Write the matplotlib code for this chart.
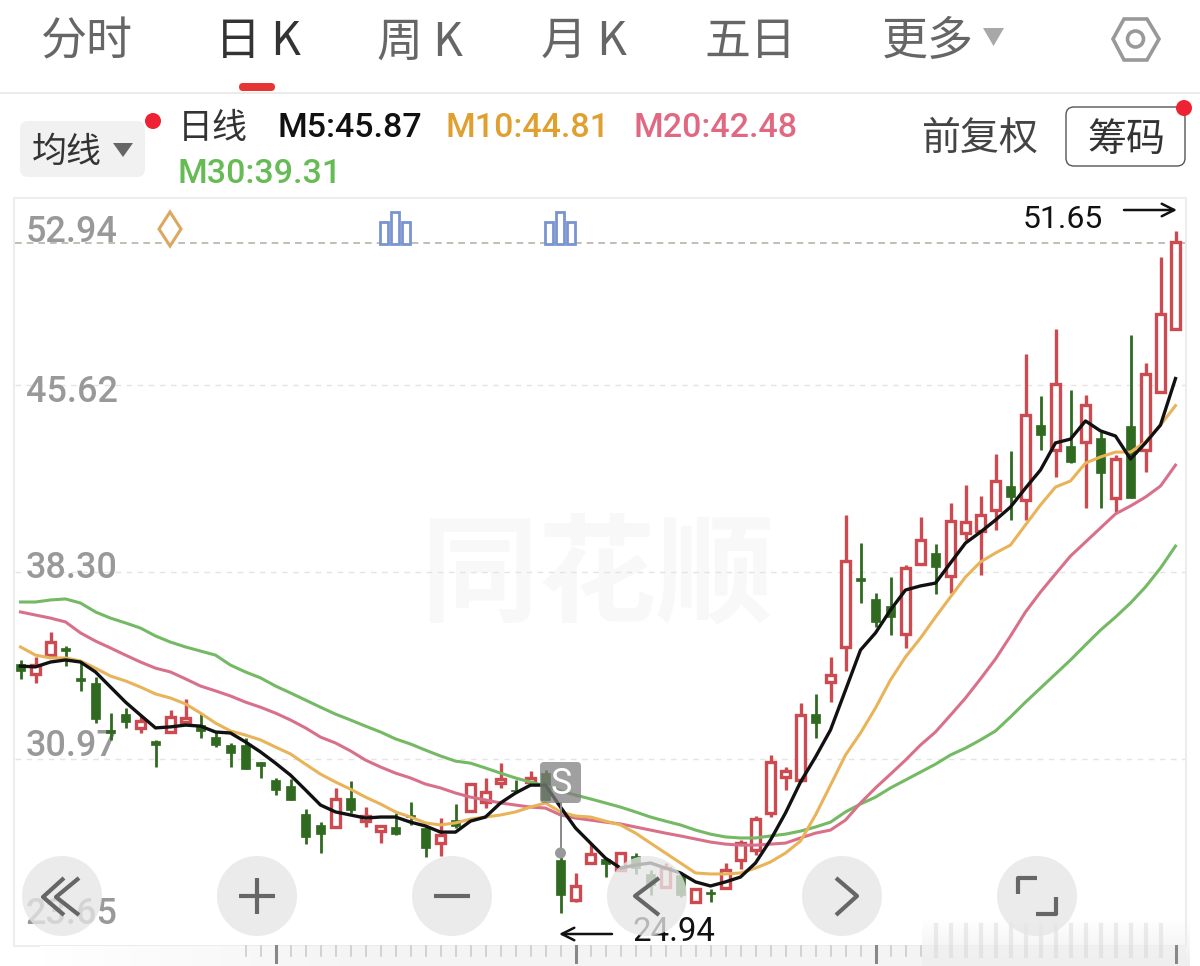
import numpy as np
import matplotlib
matplotlib.use("Agg")
import matplotlib.pyplot as plt
from matplotlib.patches import Rectangle, Circle, FancyBboxPatch, Polygon

plt.rcParams['font.family'] = ['Noto Sans CJK SC', 'DejaVu Sans']

tabs = ["分时", "日 K", "周 K", "月 K", "五日", "更多"]
ma_text = ["M5:45.87", "M10:44.81", "M20:42.48", "M30:39.31"]
y_labels = ["52.94", "45.62", "38.30", "30.97", "23.65"]
grid_prices = [45.62, 38.30, 30.97]
price_top = 52.94
price_bottom = 23.65
high_line = 51.18
max_price = "51.65"
min_price = "24.94"

opens = [34.69, 34.30, 35.04, 35.32, 34.15, 33.95, 32.11, 32.73, 32.19, 31.68, 32.03, 32.42, 32.30, 31.83, 31.52, 31.52,
         30.85, 30.15, 29.92, 28.82, 28.39, 28.31, 29.45, 28.54, 28.15, 28.31, 28.78, 28.27, 27.68, 28.58, 28.93, 29.29,
         30.03, 29.76, 30.07, 30.42, 27.02, 25.45, 26.90, 27.06, 26.63, 27.17, 26.47, 25.96, 26.43, 25.37, 25.76, 25.92,
         27.02, 27.41, 28.86, 30.27, 30.15, 32.73, 33.99, 35.36, 38.06, 37.24, 36.96, 35.87, 38.61, 39.04, 38.14, 39.82,
         39.90, 40.72, 41.66, 41.12, 44.05, 43.07, 43.23, 43.39, 43.54, 41.19, 44.01, 43.07, 45.35, 47.81]
closes = [34.42, 34.66, 35.55, 35.20, 34.03, 32.54, 31.99, 32.42, 32.46, 31.52, 32.62, 32.58, 32.07, 31.52, 31.21, 30.58,
          30.70, 29.76, 29.37, 27.92, 28.03, 29.41, 28.97, 28.74, 28.35, 28.03, 28.70, 27.49, 28.00, 28.35, 29.99, 29.68,
          30.19, 29.72, 30.23, 29.37, 25.65, 26.00, 27.25, 26.86, 27.29, 26.70, 26.04, 26.70, 25.65, 25.88, 25.68, 26.63,
          27.68, 28.62, 30.85, 30.50, 32.69, 32.38, 34.26, 38.73, 37.94, 36.34, 36.53, 38.45, 39.55, 38.49, 40.29, 40.25,
          40.53, 41.86, 41.23, 44.44, 43.66, 45.66, 42.60, 44.84, 42.17, 42.72, 41.19, 46.05, 48.40, 51.22]
highs = [34.85, 34.97, 35.94, 35.39, 34.73, 34.18, 32.77, 32.97, 32.69, 31.72, 32.89, 33.32, 32.77, 32.03, 31.60, 31.79,
         30.85, 30.23, 30.19, 29.01, 28.50, 29.84, 30.11, 29.09, 28.35, 28.86, 29.29, 28.39, 28.66, 29.21, 29.99, 30.23,
         30.81, 30.15, 30.50, 30.54, 27.21, 26.51, 27.68, 27.09, 27.33, 27.29, 26.63, 26.90, 26.55, 25.88, 25.88, 26.90,
         27.80, 28.74, 31.13, 30.66, 33.16, 33.52, 34.97, 40.53, 39.43, 37.47, 38.10, 38.57, 40.45, 39.39, 41.00, 41.70,
         41.27, 42.92, 43.03, 46.83, 45.19, 47.81, 45.42, 45.23, 43.78, 42.88, 47.57, 46.48, 50.63, 51.65]
lows = [34.11, 33.95, 35.04, 34.61, 33.63, 32.38, 31.72, 32.19, 31.99, 30.66, 31.99, 32.34, 31.79, 31.44, 30.66, 30.58,
        30.23, 29.56, 29.37, 27.64, 27.29, 28.31, 28.86, 28.31, 27.68, 28.00, 28.39, 27.13, 27.17, 28.27, 28.93, 29.05,
        29.84, 29.64, 30.03, 29.37, 24.94, 25.37, 26.90, 26.35, 26.63, 26.47, 25.65, 25.96, 25.57, 25.37, 25.37, 25.92,
        26.66, 27.21, 28.70, 29.76, 30.07, 31.79, 33.20, 34.42, 37.08, 36.14, 35.83, 35.32, 38.61, 37.43, 37.47, 39.55,
        38.18, 39.94, 40.33, 40.33, 43.07, 42.02, 42.56, 40.80, 40.80, 40.65, 41.19, 42.21, 45.35, 47.81]

m5 = [34.61, 34.58, 34.77, 34.85, 34.77, 34.38, 33.79, 33.20, 32.69, 32.19, 32.23, 32.30, 32.26, 32.03, 31.99, 31.64,
      31.25, 30.81, 30.34, 29.76, 29.17, 28.90, 28.78, 28.66, 28.70, 28.70, 28.50, 28.35, 28.11, 28.11, 28.54, 28.70,
      29.25, 29.64, 29.95, 29.95, 29.09, 28.27, 27.68, 27.09, 26.70, 26.82, 26.90, 26.70, 26.51, 26.16, 26.00, 26.16,
      26.35, 26.90, 27.80, 28.86, 30.07, 31.05, 32.11, 33.67, 35.24, 35.91, 36.81, 37.59, 37.75, 37.86, 38.65, 39.43,
      39.86, 40.33, 40.84, 41.58, 42.29, 43.35, 43.50, 44.21, 43.82, 43.62, 42.72, 43.35, 44.05, 45.87]
m10 = [35.36, 35.04, 34.93, 34.93, 34.81, 34.53, 34.22, 34.03, 33.79, 33.52, 33.36, 33.13, 32.77, 32.38, 32.07, 31.91,
       31.72, 31.44, 31.17, 30.77, 30.38, 30.07, 29.79, 29.48, 29.21, 28.90, 28.70, 28.47, 28.39, 28.47, 28.62, 28.70,
       28.78, 28.90, 29.09, 29.25, 28.90, 28.74, 28.70, 28.54, 28.39, 28.07, 27.68, 27.29, 26.90, 26.51, 26.47, 26.47,
       26.51, 26.70, 26.94, 27.29, 27.76, 28.78, 29.95, 31.13, 31.99, 32.97, 34.07, 34.97, 35.71, 36.53, 37.32, 38.10,
       38.69, 39.04, 39.35, 40.14, 40.92, 41.62, 41.86, 42.56, 42.80, 42.99, 42.99, 43.39, 44.05, 44.81]
m20 = [36.73, 36.61, 36.49, 36.34, 35.91, 35.59, 35.32, 35.04, 34.77, 34.53, 34.38, 34.11, 33.83, 33.64, 33.44, 33.20,
       33.00, 32.77, 32.50, 32.19, 31.83, 31.60, 31.29, 30.93, 30.66, 30.42, 30.23, 29.99, 29.84, 29.64, 29.48, 29.37,
       29.25, 29.17, 29.09, 29.05, 28.78, 28.66, 28.58, 28.50, 28.43, 28.31, 28.19, 28.07, 27.96, 27.84, 27.72, 27.64,
       27.60, 27.60, 27.64, 27.68, 27.88, 28.07, 28.19, 28.58, 29.25, 29.84, 30.38, 30.93, 31.52, 32.03, 32.69, 33.36,
       34.11, 34.89, 35.79, 36.73, 37.51, 38.22, 38.92, 39.47, 40.02, 40.57, 40.88, 41.23, 41.66, 42.48]
m30 = [37.12, 37.12, 37.20, 37.24, 37.08, 36.73, 36.49, 36.30, 36.10, 35.79, 35.55, 35.36, 35.20, 35.04, 34.65, 34.38,
       34.15, 33.83, 33.56, 33.28, 33.00, 32.73, 32.50, 32.26, 32.03, 31.76, 31.56, 31.32, 31.09, 30.89, 30.81, 30.62,
       30.42, 30.23, 30.07, 29.92, 29.72, 29.56, 29.41, 29.25, 29.09, 28.90, 28.70, 28.54, 28.39, 28.19, 28.03, 27.92,
       27.88, 27.88, 27.96, 28.03, 28.15, 28.31, 28.50, 28.90, 29.21, 29.48, 29.84, 30.15, 30.46, 30.77, 31.13, 31.40,
       31.72, 32.07, 32.62, 33.20, 33.75, 34.30, 34.85, 35.44, 36.02, 36.53, 37.08, 37.71, 38.45, 39.31]

red = "#cc4a50"
green = "#2f6a20"
gray_text = "#999999"


def px(size):
    # font size in pixels to points at dpi 100
    return size * 0.72


def drawCandles(ax):
    for i in range(len(opens)):
        up = closes[i] >= opens[i]
        color = red if up else green
        ax.vlines(i, lows[i], highs[i], color=color, lw=2.4 if up else 2, zorder=3)
        bottom = min(opens[i], closes[i])
        height = abs(closes[i] - opens[i])
        if up:
            ax.add_patch(Rectangle((i - 0.27, bottom), 0.54, height, facecolor="white", edgecolor=color, lw=2.4, zorder=4))
        else:
            ax.add_patch(Rectangle((i - 0.29, bottom), 0.58, height, facecolor=color, edgecolor=color, lw=0.5, zorder=4))


def drawButton(ui, x, kind):
    y = 896
    ui.add_patch(Circle((x, y), 40, facecolor="#e6e6e6", edgecolor="none", alpha=0.78, zorder=10))
    icon = dict(color="#666666", lw=3, solid_capstyle="butt", zorder=11)
    if kind == "double":
        ui.plot([x + 2, x - 19, x + 2], [878, 897, 915], **icon)
        ui.plot([x + 17, x - 6, x + 17], [878, 897, 915], **icon)
    elif kind == "plus":
        ui.plot([x - 18, x + 18], [y, y], **icon)
        ui.plot([x, x], [y - 18, y + 18], **icon)
    elif kind == "minus":
        ui.plot([x - 18, x + 18], [y, y], **icon)
    elif kind == "left":
        ui.plot([x + 12, x - 12, x + 12], [878, 896, 915], **icon)
    elif kind == "right":
        ui.plot([x - 6, x + 15, x - 6], [878, 896, 915], **icon)
    else:
        ui.plot([x - 19, x - 19, x], [894, 878, 878], **icon)
        ui.plot([x + 19, x + 19, x - 1], [897, 914, 914], **icon)


fig = plt.figure(figsize=(12, 9.66), dpi=100, facecolor="white")

# chart area, x is the candle number and y the price
ax = fig.add_axes([14 / 1200, 20 / 966, 1172 / 1200, 748 / 966], zorder=1)
ax.set_xlim(-6.5 / 15, 1165.5 / 15)
ax.set_ylim(price_bottom, price_top)
ax.set_xticks([])
ax.set_yticks([])
for spine in ax.spines.values():
    spine.set_color("#ececec")
    spine.set_linewidth(1.4)

# pixel layer for all the app parts
ui = fig.add_axes([0, 0, 1, 1], zorder=2)
ui.set_xlim(0, 1200)
ui.set_ylim(966, 0)
ui.axis("off")

ax.hlines(grid_prices, -0.4, 77.7, color="#e4e4e4", lw=1, linestyles=(0, (4, 4)), zorder=1)
ax.hlines(high_line, -0.4, 77.7, color="#b4b4a8", lw=1.2, linestyles=(0, (4, 3)), zorder=2)

ax.text(597, 578, "同花顺", transform=ui.transData, fontsize=px(118), fontweight="bold", color="#f8f8f8",
        ha="center", va="center", zorder=0)

label_y = [233, 392, 569, 747, 914]
for label, y in zip(y_labels, label_y):
    ax.text(26, y, label, transform=ui.transData, fontsize=px(36), family="Roboto", fontweight="medium", color=gray_text,
            ha="left", va="center", zorder=2)

drawCandles(ax)
days = np.arange(len(m5))
ax.plot(days, m30, color="#74b963", lw=2.2, zorder=5)
ax.plot(days, m20, color="#d9708a", lw=2.2, zorder=5)
ax.plot(days, m10, color="#e9b35a", lw=2.2, zorder=5)
ax.plot(days, m5, color="#111111", lw=2.4, zorder=6)

# tab bar
tab_x = [87, 258, 420, 584, 750, 928]
for i in range(len(tabs)):
    color = "#333333" if i == 1 else "#666666"
    ui.text(tab_x[i], 42, tabs[i], fontsize=px(46), color=color, ha="center", va="center")
ui.add_patch(Polygon([[983, 28], [1004, 28], [993.5, 46]], facecolor="#a8a8a8", edgecolor="none"))
ui.add_patch(FancyBboxPatch((239, 83), 36, 8, boxstyle="round,pad=0,rounding_size=4", facecolor="#e53535", edgecolor="none"))
ui.plot([0, 1200], [93, 93], color="#e8e8e8", lw=1.2)
ui.add_patch(Polygon([[1113, 39], [1124, 19], [1147, 19], [1159, 39], [1147, 60], [1124, 60]], facecolor="none", edgecolor="#999999", lw=2.6))
ui.add_patch(Circle((1135.5, 39), 8, facecolor="none", edgecolor="#999999", lw=2.6))

# moving average row
ui.add_patch(FancyBboxPatch((20, 121), 125, 56, boxstyle="round,pad=0,rounding_size=8", facecolor="#f1f1f1", edgecolor="none"))
ui.text(67, 152, "均线", fontsize=px(35), color="#333333", ha="center", va="center")
ui.add_patch(Polygon([[113, 143], [133, 143], [123, 157]], facecolor="#666666", edgecolor="none"))
ui.add_patch(Circle((153, 121), 8, facecolor="#ee2233", edgecolor="none"))
ui.text(213, 128, "日线", fontsize=px(35), color="#333333", ha="center", va="center")
ui.text(277, 128, ma_text[0], fontsize=px(34), family="Roboto", fontweight="medium", color="#111111", ha="left", va="center")
ui.text(446, 128, ma_text[1], fontsize=px(34), family="Roboto", fontweight="medium", color="#e0a030", ha="left", va="center")
ui.text(634, 128, ma_text[2], fontsize=px(34), family="Roboto", fontweight="medium", color="#e06880", ha="left", va="center")
ui.text(177, 174, ma_text[3], fontsize=px(34), family="Roboto", fontweight="medium", color="#66bb55", ha="left", va="center")
ui.text(980, 139, "前复权", fontsize=px(39), color="#444444", ha="center", va="center")
ui.add_patch(FancyBboxPatch((1066, 107), 119, 59, boxstyle="round,pad=0,rounding_size=8", facecolor="white", edgecolor="#555555", lw=1))
ui.text(1126, 140, "筹码", fontsize=px(39), color="#333333", ha="center", va="center")
ui.add_patch(Circle((1184, 108), 8, facecolor="#ee2233", edgecolor="none"))

# event markers above the candles
ui.add_patch(Polygon([[170, 212], [181, 229], [170, 246], [159, 229]], facecolor="white", edgecolor="#dca860", lw=2.2))
for bx in [380, 545]:
    for dx, top in [(0, 222), (11, 212), (22, 222)]:
        ui.add_patch(Rectangle((bx + dx, top), 8, 244 - top, facecolor="white", edgecolor="#7a94d0", lw=2))

# max and min labels
ui.text(1063, 220, max_price, fontsize=px(32), family="Roboto", color="#111111", ha="center", va="center")
ui.annotate("", xy=(1177, 210), xytext=(1124, 210), arrowprops=dict(arrowstyle="->,head_length=0.9,head_width=0.45", color="#111111", lw=1.8, shrinkA=0, shrinkB=0))
ui.text(674, 932, min_price, fontsize=px(33), family="Roboto", color="#111111", ha="center", va="center")
ui.annotate("", xy=(559, 934), xytext=(612, 934), arrowprops=dict(arrowstyle="->,head_length=0.9,head_width=0.45", color="#111111", lw=1.8, shrinkA=0, shrinkB=0))

# S flag
ui.add_patch(FancyBboxPatch((540, 762), 41, 41, boxstyle="round,pad=0,rounding_size=4", facecolor="#808080", edgecolor="none", alpha=0.75, zorder=7))
ui.text(561, 784, "S", fontsize=px(36), family="Roboto", color="white", ha="center", va="center", zorder=8)
ui.plot([560.5, 560.5], [803, 853], color="#888888", lw=1.4, zorder=7)
ui.add_patch(Circle((560.5, 853), 5.5, facecolor="#999999", edgecolor="none", zorder=7))

# bottom ruler
fade = np.linspace(0, 1, 256).reshape(1, -1)
ui.imshow(np.clip(fade * 3.5, 0, 1), extent=(40, 1186, 966, 946), aspect="auto", cmap=matplotlib.colors.LinearSegmentedColormap.from_list("s", ["#ffffff", "#f4f4f4"]), vmin=0, vmax=1, zorder=0)
blur = np.ones((40, 2, 4))
blur[:, :, :3] = 0.94
blur[:, :, 3] = np.linspace(0, 1, 40).reshape(-1, 1)
ui.imshow(blur, extent=(922, 1190, 966, 918), aspect="auto", zorder=1)
ui.set_xlim(0, 1200)
ui.set_ylim(966, 0)
ruler_x = 20.5 + 15 * np.arange(15, 78)
for x in ruler_x:
    if (x - 275.5) % 300 == 0:
        ui.plot([x, x], [946, 962], color="#888888", lw=2.2, zorder=2)
    elif x > 922:
        # this end of the ruler is smeared in the screenshot
        ui.plot([x, x], [925, 956], color="#cccccc", lw=3, alpha=0.35, zorder=2)
    else:
        ui.plot([x, x], [946, 956], color="#cccccc", lw=1.2, zorder=2)

# round buttons sit over everything
button_x = [62, 257, 452, 647, 842, 1037]
button_kind = ["double", "plus", "minus", "left", "right", "corner"]
for x, kind in zip(button_x, button_kind):
    drawButton(ui, x, kind)

fig.savefig("out.png", dpi=100)
